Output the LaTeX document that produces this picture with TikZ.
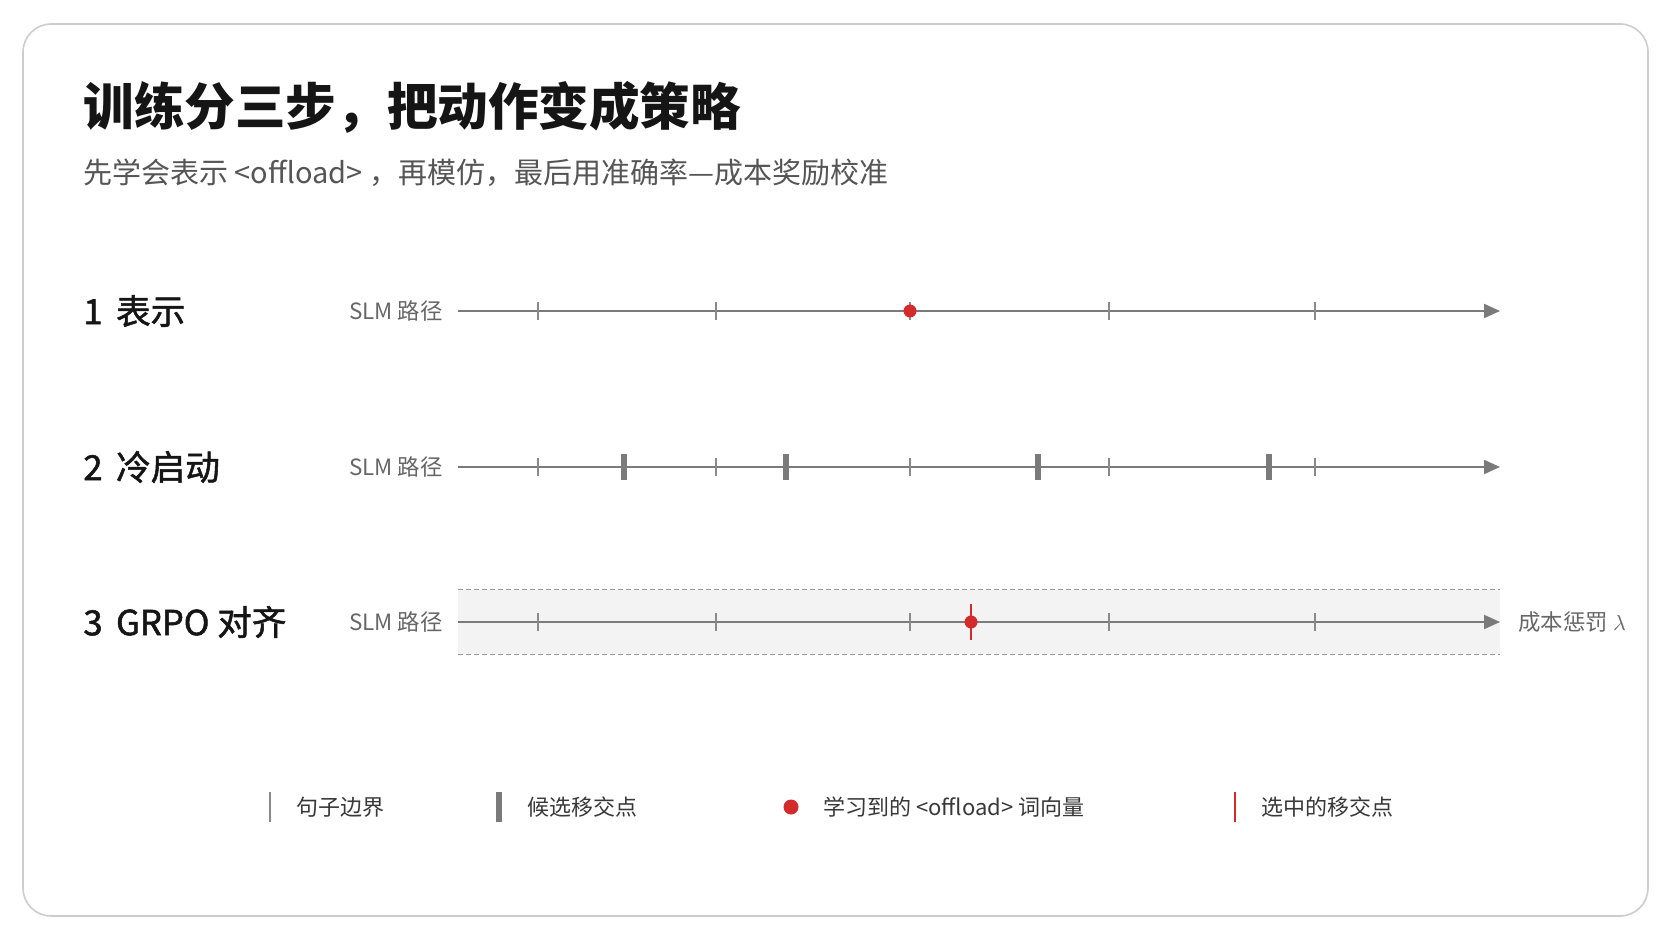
\documentclass[tikz,border=0pt]{standalone}
\usepackage{fontspec}
\usepackage{xcolor}
\usepackage{tikz}
\usetikzlibrary{arrows.meta,positioning}
\newfontfamily\cjk{Noto Sans CJK SC}
\newfontfamily\cjkmid[FakeBold=1.5]{Noto Sans CJK SC}
\definecolor{inkdark}{HTML}{151515}
\definecolor{subgray}{HTML}{555555}
\definecolor{labelgray}{HTML}{666666}
\definecolor{pathgray}{HTML}{7A7A7A}
\definecolor{tickgray}{HTML}{8A8A8A}
\definecolor{markred}{HTML}{D42A2A}
\definecolor{framegray}{HTML}{CDCDCD}
\definecolor{bandfill}{HTML}{F3F3F3}
\definecolor{bandline}{HTML}{9A9A9A}

\tikzset{
  titletext/.style={anchor=west, inner sep=0pt, text=inkdark, font=\cjk\bfseries\fontsize{25.3}{30}\selectfont},
  subtext/.style={anchor=west, inner sep=0pt, text=subgray, font=\cjk\fontsize{14.5}{18}\selectfont},
  steptext/.style={anchor=west, inner sep=0pt, text=inkdark, font=\cjkmid\fontsize{17.3}{20}\selectfont},
  pathlabel/.style={inner sep=0pt, text=labelgray, font=\cjk\fontsize{11.2}{14}\selectfont},
  legtext/.style={inner sep=0pt, anchor=west, text=inkdark!85, font=\cjk\fontsize{11}{13}\selectfont},
  pathline/.style={draw=pathgray, line width=1pt, -{Triangle[length=8pt, width=7pt]}},
  boundtick/.style={draw=tickgray, line width=0.6pt},
  candmark/.style={rectangle, fill=pathgray, inner sep=0pt, minimum width=3.25pt, minimum height=13pt},
  learnpt/.style={circle, fill=markred, inner sep=0pt, minimum size=6.5pt},
  selline/.style={draw=markred, line width=1pt},
  band/.style={rectangle, fill=bandfill, inner sep=0pt, minimum width=521pt, minimum height=32pt},
  bandedge/.style={draw=bandline, line width=0.6pt, dash pattern=on 2.5pt off 1.5pt},
  boundbar/.style={rectangle, fill=tickgray, inner sep=0pt, minimum width=0.75pt, minimum height=15pt},
  candbar/.style={rectangle, fill=pathgray, inner sep=0pt, minimum width=3.25pt, minimum height=15pt},
  legdot/.style={circle, fill=markred, inner sep=0pt, minimum size=7.5pt},
  selbar/.style={rectangle, fill=markred, inner sep=0pt, minimum width=1pt, minimum height=15pt}
}

\begin{document}
\begin{tikzpicture}[x=0.5pt, y=-0.5pt]
\useasboundingbox (0,0) rectangle (1672,941);
\fill[white] (0,0) rectangle (1672,941);
\draw[framegray, line width=0.8pt, rounded corners=14pt] (23,24) rectangle (1648,916);

\node[titletext] (title) at (83,107) {训练分三步，把动作变成策略};
\node[subtext] (sub) at (83,173) {先学会表示 <offload> ，再模仿，最后用准确率—成本奖励校准};

\node[steptext] (step1) at (83,311) {1\ \,表示};
\node[steptext] (step2) at (83,467) {2\ \,冷启动};
\node[steptext] (step3) at (83,622) {3\ \,GRPO\ 对齐};

\node[band] (band) at (979,622) {};
\draw[bandedge] (band.north west) -- (band.north east);
\draw[bandedge] (band.south west) -- (band.south east);

\foreach \y [count=\r] in {311,467,622} {
  \node[pathlabel, anchor=east] (slm\r) at (443,\y) {SLM 路径};
  \coordinate (s\r) at (458,\y);
  \coordinate (e\r) at (1500,\y);
}
\foreach \r in {1,2,3}
  \draw[pathline] (s\r) -- (e\r);
\foreach \y in {311,467,622}
  \foreach \x in {538,716,910,1109,1315}
    \draw[boundtick] (\x,\y-9) -- (\x,\y+9);

\node[pathlabel, anchor=west, right=9pt of e3] (cost) {成本惩罚 $\lambda$};

\node[learnpt] (vec1) at (910,311) {};
\foreach \x [count=\i] in {624,786,1038,1269}
  \node[candmark] (cand\i) at (\x,467) {};
\coordinate (pickTop) at (971,604);
\coordinate (pickBot) at (971,640);
\draw[selline] (pickTop) -- (pickBot);
\node[learnpt] (vec3) at (971,622) {};

\node[boundbar] (lgA) at (270,807) {};
\node[legtext, right=12.5pt of lgA] (lgAt) {句子边界};
\node[candbar] (lgB) at (499,807) {};
\node[legtext, right=12pt of lgB] (lgBt) {候选移交点};
\node[legdot] (lgC) at (791,807) {};
\node[legtext, right=12pt of lgC] (lgCt) {学习到的\ <offload>\ 词向量};
\node[selbar] (lgD) at (1235,807) {};
\node[legtext, right=12.5pt of lgD] (lgDt) {选中的移交点};
\end{tikzpicture}
\end{document}
